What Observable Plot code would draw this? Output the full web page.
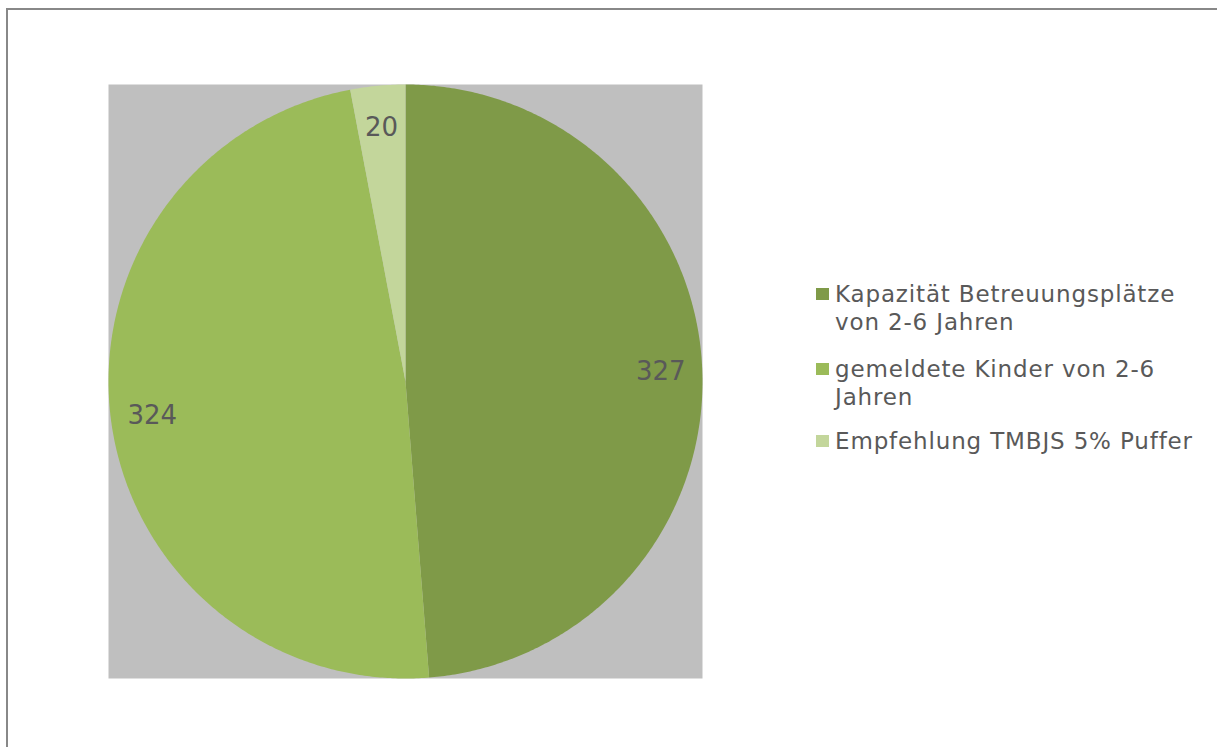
<!DOCTYPE html>
<html><head><meta charset="utf-8">
<script src="https://cdn.jsdelivr.net/npm/d3@7"></script>
<script src="https://cdn.jsdelivr.net/npm/@observablehq/plot@0.6"></script>
<style>
html,body{margin:0;padding:0;background:#fff;overflow:hidden;}
#wrap{position:relative;width:1217px;height:747px;overflow:hidden;font-family:"DejaVu Sans",Verdana,sans-serif;}
#frame{position:absolute;left:6px;top:8px;width:1400px;height:900px;border:2px solid #888;box-sizing:border-box;}
#chart{position:absolute;left:0;top:0;}
.item{position:absolute;left:816px;font-size:23px;line-height:28px;letter-spacing:0.85px;color:#595959;}
.sw{position:absolute;left:0;top:8px;width:13px;height:12px;}
.tx{position:absolute;left:19px;top:0;width:368px;}
</style>
</head><body>
<div id="wrap"><div id="frame"></div><div id="chart"></div><div id="legend"></div></div>
<script>
const categories = ["Kapazität Betreuungsplätze von 2-6 Jahren", "gemeldete Kinder von 2-6 Jahren", "Empfehlung TMBJS 5% Puffer"];
const values = [327, 324, 20];
const colors = ["#7F9A48", "#9BBB59", "#C3D69B"];

const arcs = d3.pie().sort(null).value(d => d)(values);
const pts = [];
arcs.forEach((a, i) => {
  const n = Math.max(2, Math.ceil((a.endAngle - a.startAngle) / (Math.PI / 360)));
  pts.push({name: categories[i], x: 0, y: 0});
  for (let k = 0; k <= n; k++) {
    const t = a.startAngle + (a.endAngle - a.startAngle) * k / n;
    pts.push({name: categories[i], x: Math.sin(t), y: Math.cos(t)});
  }
  pts.push({name: categories[i], x: 0, y: 0});
});
const labels = arcs.map((a, i) => {
  const m = (a.startAngle + a.endAngle) / 2;
  return {text: String(values[i]), x: 0.86 * Math.sin(m), y: 0.86 * Math.cos(m)};
});

const chart = Plot.plot({
  width: 1217, height: 747,
  marginLeft: 108, marginRight: 515, marginTop: 84, marginBottom: 69,
  x: {domain: [-1, 1], axis: null},
  y: {domain: [-1, 1], axis: null},
  color: {domain: categories, range: colors},
  style: {background: "transparent", fontFamily: "DejaVu Sans, Verdana, sans-serif"},
  marks: [
    Plot.frame({fill: "#bfbfbf", stroke: "none"}),
    Plot.line(pts, {x: "x", y: "y", z: "name", fill: "name", stroke: "none", curve: "linear"}),
    Plot.text(labels, {x: "x", y: "y", text: "text", fill: "#595959", fontSize: 26, letterSpacing: 0.5})
  ]
});
document.getElementById("chart").appendChild(chart);

const tops = [280, 355, 427];
const leg = document.getElementById("legend");
categories.forEach((c, i) => {
  const it = document.createElement("div");
  it.className = "item";
  it.style.top = tops[i] + "px";
  it.innerHTML = `<div class="sw" style="background:${colors[i]}"></div><div class="tx"></div>`;
  it.querySelector(".tx").textContent = c;
  leg.appendChild(it);
});
</script>
</body></html>
